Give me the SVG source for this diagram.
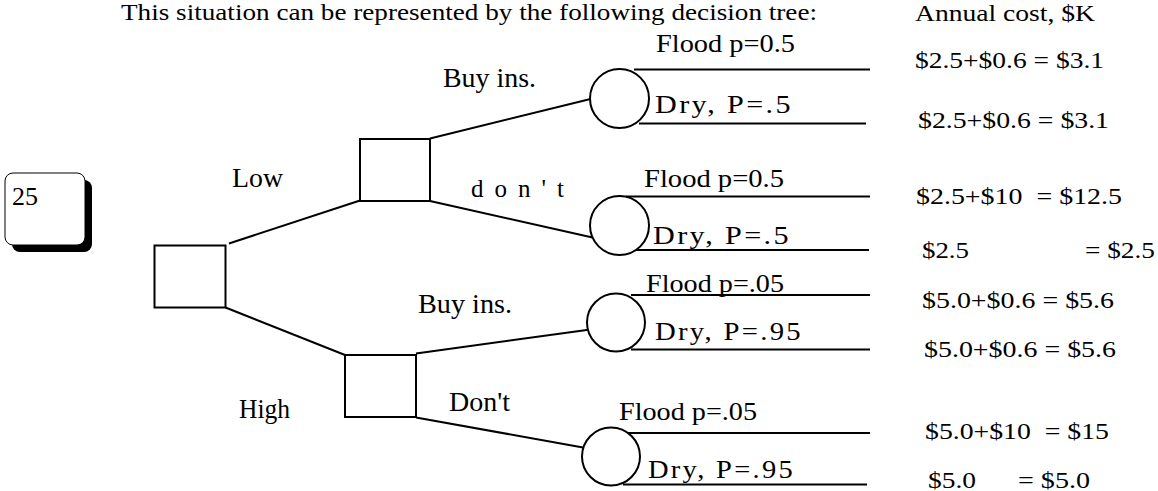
<svg xmlns="http://www.w3.org/2000/svg" width="1158" height="491" viewBox="0 0 1158 491">
<style>
  text { font-family: "Liberation Serif", "Times New Roman", serif; fill: #000; white-space: pre; }
  .t { font-size: 23px; }
  .c { font-size: 24px; }
  .p { font-size: 25px; }
  .d { font-size: 25px; letter-spacing: 2px; }
  .lb { font-size: 28px; }
  .box { fill: #fff; stroke: #000; stroke-width: 2; }
  .chance { fill: #fff; stroke: #000; stroke-width: 2; }
  .edge { fill: none; stroke: #000; stroke-width: 2; }
</style>

<text class="t" x="121" y="19.5" textLength="696" lengthAdjust="spacingAndGlyphs">This situation can be represented by the following decision tree:</text>

<g id="note25">
  <rect x="12" y="180" width="80" height="72" rx="8" fill="#000"/>
  <rect x="5" y="173" width="80" height="72" rx="8" fill="#fff" stroke="#000" stroke-width="1"/>
  <text x="12" y="205" font-family="Liberation Serif, serif" font-size="26">25</text>
</g>

<g id="connectors">
  <line class="edge" x1="229" y1="243.5" x2="360" y2="200.5"/>
  <line class="edge" x1="225.5" y1="307.5" x2="345" y2="355"/>
  <line class="edge" x1="430" y1="138.5" x2="590.5" y2="99"/>
  <line class="edge" x1="430" y1="201" x2="592.5" y2="237.5"/>
  <line class="edge" x1="416" y1="353.5" x2="594" y2="329"/>
  <line class="edge" x1="416" y1="417.5" x2="583" y2="447.5"/>
  <line class="edge" x1="634" y1="69.5" x2="870" y2="69.5"/>
  <line class="edge" x1="639" y1="123.5" x2="866" y2="123.5"/>
  <line class="edge" x1="626" y1="196.5" x2="870" y2="196.5"/>
  <line class="edge" x1="636" y1="250" x2="869" y2="250"/>
  <line class="edge" x1="631" y1="295" x2="870" y2="295"/>
  <line class="edge" x1="631" y1="349.5" x2="870" y2="349.5"/>
  <line class="edge" x1="624" y1="433" x2="870" y2="433"/>
  <line class="edge" x1="623" y1="484.5" x2="867" y2="484.5"/>
</g>

<g id="root"><rect class="box" x="154.5" y="245.5" width="71" height="62"/></g>
<g id="dec-low"><rect class="box" x="360" y="139" width="70" height="62"/></g>
<g id="dec-high"><rect class="box" x="345" y="355" width="71" height="62"/></g>
<g id="ch-low-buy"><circle class="chance" cx="619.5" cy="98.5" r="29.5"/></g>
<g id="ch-low-dont"><circle class="chance" cx="619.5" cy="225.5" r="29.5"/></g>
<g id="ch-high-buy"><circle class="chance" cx="616" cy="322.5" r="29"/></g>
<g id="ch-high-dont"><circle class="chance" cx="611" cy="456.5" r="29"/></g>

<g id="labels">
  <text class="lb" x="232" y="187" textLength="51" lengthAdjust="spacingAndGlyphs">Low</text>
  <text class="lb" x="239" y="418" textLength="51" lengthAdjust="spacingAndGlyphs">High</text>
  <text class="lb" x="443" y="87" textLength="93" lengthAdjust="spacingAndGlyphs">Buy ins.</text>
  <text class="p" x="471" y="197" textLength="93" lengthAdjust="spacing">d o n ' t</text>
  <text class="lb" x="418" y="313" textLength="94" lengthAdjust="spacingAndGlyphs">Buy ins.</text>
  <text class="lb" x="449" y="411" textLength="61" lengthAdjust="spacingAndGlyphs">Don't</text>

  <text class="p" x="656" y="52" textLength="139" lengthAdjust="spacingAndGlyphs">Flood p=0.5</text>
  <text class="d" x="655" y="113" textLength="138" lengthAdjust="spacingAndGlyphs">Dry, P=.5</text>
  <text class="p" x="644" y="187" textLength="140" lengthAdjust="spacingAndGlyphs">Flood p=0.5</text>
  <text class="d" x="653" y="244" textLength="138" lengthAdjust="spacingAndGlyphs">Dry, P=.5</text>
  <text class="p" x="646" y="292" textLength="138" lengthAdjust="spacingAndGlyphs">Flood p=.05</text>
  <text class="d" x="655" y="340" textLength="148" lengthAdjust="spacingAndGlyphs">Dry, P=.95</text>
  <text class="p" x="619" y="420" textLength="138" lengthAdjust="spacingAndGlyphs">Flood p=.05</text>
  <text class="d" x="648" y="478" textLength="147" lengthAdjust="spacingAndGlyphs">Dry, P=.95</text>
</g>

<g id="costs">
  <text class="c" x="915" y="21" textLength="180" lengthAdjust="spacingAndGlyphs">Annual cost, $K</text>
  <text class="c" x="915" y="68" textLength="189" lengthAdjust="spacingAndGlyphs">$2.5+$0.6 = $3.1</text>
  <text class="c" x="918" y="128" textLength="191" lengthAdjust="spacingAndGlyphs">$2.5+$0.6 = $3.1</text>
  <text class="c" x="916" y="204" textLength="206" lengthAdjust="spacingAndGlyphs">$2.5+$10  = $12.5</text>
  <text class="c" y="258"><tspan x="922" textLength="47" lengthAdjust="spacingAndGlyphs">$2.5</tspan><tspan x="1085" textLength="70" lengthAdjust="spacingAndGlyphs">= $2.5</tspan></text>
  <text class="c" x="922" y="308" textLength="192" lengthAdjust="spacingAndGlyphs">$5.0+$0.6 = $5.6</text>
  <text class="c" x="924" y="357" textLength="192" lengthAdjust="spacingAndGlyphs">$5.0+$0.6 = $5.6</text>
  <text class="c" x="925" y="439" textLength="184" lengthAdjust="spacingAndGlyphs">$5.0+$10  = $15</text>
  <text class="c" y="488"><tspan x="928" textLength="48" lengthAdjust="spacingAndGlyphs">$5.0</tspan><tspan x="1018" textLength="72" lengthAdjust="spacingAndGlyphs">= $5.0</tspan></text>
</g>
</svg>
